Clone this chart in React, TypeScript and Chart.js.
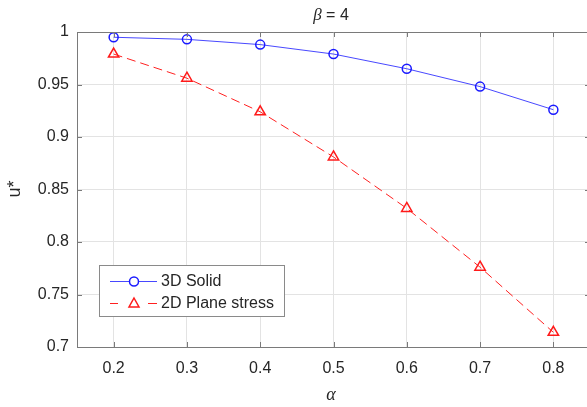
import React, { useEffect, useRef } from "react";
import { Chart, registerables } from "chart.js";

Chart.register(...registerables);

const alphaValues = [0.2, 0.3, 0.4, 0.5, 0.6, 0.7, 0.8];
const solid3D = [0.995, 0.993, 0.988, 0.979, 0.965, 0.948, 0.926];
const planeStress2D = [0.979, 0.956, 0.924, 0.881, 0.832, 0.776, 0.714];
const xTickValues = [0.2, 0.3, 0.4, 0.5, 0.6, 0.7, 0.8];
const yTickValues = [0.7, 0.75, 0.8, 0.85, 0.9, 0.95, 1];
const seriesNames = ["3D Solid", "2D Plane stress"];
const titleGreek = "β";
const titleRest = " = 4";
const xTitle = "α";
const yTitle = "u*";

const AXIS = "#7a7a7a";
const TEXT = "#262626";
const FONT = "'Liberation Sans', Arial, sans-serif";

const decorPlugin = {
  id: "decor",
  afterDraw(chart: any) {
    const ctx = chart.ctx as CanvasRenderingContext2D;
    const a = chart.chartArea;
    const xs = chart.scales.x;
    const ys = chart.scales.y;
    ctx.save();
    ctx.strokeStyle = AXIS;
    ctx.lineWidth = 1;
    ctx.beginPath();
    ctx.moveTo(a.left, a.top + 0.5);
    ctx.lineTo(a.right, a.top + 0.5);
    ctx.moveTo(a.right - 0.5, a.top);
    ctx.lineTo(a.right - 0.5, a.bottom);
    ctx.stroke();
    ctx.beginPath();
    for (const v of xTickValues) {
      const px = Math.round(xs.getPixelForValue(v)) + 0.5;
      ctx.moveTo(px, a.bottom);
      ctx.lineTo(px, a.bottom - 5);
      ctx.moveTo(px, a.top);
      ctx.lineTo(px, a.top + 5);
    }
    for (const v of yTickValues) {
      const py = Math.round(ys.getPixelForValue(v)) + 0.5;
      ctx.moveTo(a.left, py);
      ctx.lineTo(a.left + 5, py);
      ctx.moveTo(a.right, py);
      ctx.lineTo(a.right - 5, py);
    }
    ctx.stroke();

    // title
    ctx.fillStyle = TEXT;
    ctx.textBaseline = "middle";
    ctx.textAlign = "left";
    const gFont = "italic 17px 'Liberation Serif', 'DejaVu Serif', serif";
    const rFont = "16px " + FONT;
    ctx.font = gFont;
    const gw = ctx.measureText(titleGreek).width;
    ctx.font = rFont;
    const rw = ctx.measureText(titleRest).width;
    const tx = 331 - (gw + rw) / 2;
    ctx.font = gFont;
    ctx.fillText(titleGreek, tx, 16);
    ctx.font = rFont;
    ctx.fillText(titleRest, tx + gw, 16);

    // x title
    ctx.textAlign = "center";
    ctx.font = "italic 18px 'Liberation Serif', 'DejaVu Serif', serif";
    ctx.fillText(xTitle, 331, 395);

    // y title
    ctx.save();
    ctx.translate(15, 189);
    ctx.rotate(-Math.PI / 2);
    ctx.font = "18px " + FONT;
    ctx.fillText(yTitle, 0, 0);
    ctx.restore();

    // legend
    const lx = 99.5, ly = 265.5, lw = 185, lh = 51;
    ctx.fillStyle = "#ffffff";
    ctx.fillRect(lx, ly, lw, lh);
    ctx.strokeStyle = "#8a8a8a";
    ctx.lineWidth = 1;
    ctx.strokeRect(lx, ly, lw, lh);
    const rows = [281, 303];
    const ds = chart.data.datasets;
    for (let i = 0; i < 2; i++) {
      const y = rows[i];
      const d = ds[i];
      ctx.save();
      ctx.strokeStyle = d.borderColor;
      ctx.lineWidth = 1;
      ctx.beginPath();
      if (i === 1) {
        ctx.moveTo(110, y + 0.5);
        ctx.lineTo(118, y + 0.5);
        ctx.moveTo(148, y + 0.5);
        ctx.lineTo(157, y + 0.5);
      } else {
        ctx.moveTo(110, y + 0.5);
        ctx.lineTo(157, y + 0.5);
      }
      ctx.stroke();
      ctx.restore();
      ctx.save();
      ctx.strokeStyle = d.pointBorderColor;
      ctx.lineWidth = 1.5;
      ctx.fillStyle = "#ffffff";
      ctx.beginPath();
      if (i === 0) {
        ctx.arc(134, y + 0.5, 4.5, 0, Math.PI * 2);
      } else {
        ctx.moveTo(134, y - 5);
        ctx.lineTo(139, y + 4);
        ctx.lineTo(129, y + 4);
        ctx.closePath();
      }
      ctx.fill();
      ctx.stroke();
      ctx.restore();
      ctx.fillStyle = TEXT;
      ctx.textAlign = "left";
      ctx.textBaseline = "middle";
      ctx.font = "16px " + FONT;
      ctx.fillText(seriesNames[i], 161, y + 1);
    }
    ctx.restore();
  },
};

export default function App() {
  const ref = useRef<HTMLCanvasElement>(null);
  useEffect(() => {
    document.body.style.margin = "0";
    document.body.style.overflow = "hidden";
    document.documentElement.style.overflow = "hidden";
    const chart = new Chart(ref.current!, {
      type: "line",
      data: {
        datasets: [
          {
            label: seriesNames[0],
            data: alphaValues.map((a, i) => ({ x: a, y: solid3D[i] })),
            borderColor: "rgba(40,40,255,0.85)",
            borderWidth: 1,
            pointStyle: "circle",
            pointRadius: 4.5,
            pointBorderWidth: 1.5,
            pointBorderColor: "#1a1aff",
            pointBackgroundColor: "rgba(0,0,0,0)",
            fill: false,
          },
          {
            label: seriesNames[1],
            data: alphaValues.map((a, i) => ({ x: a, y: planeStress2D[i] })),
            borderColor: "#ff2020",
            borderWidth: 1,
            borderDash: [9, 5],
            pointStyle: "triangle",
            pointRadius: 6,
            pointBorderWidth: 1.5,
            pointBorderColor: "#ff1a1a",
            pointBackgroundColor: "rgba(0,0,0,0)",
            fill: false,
          },
        ],
      },
      options: {
        animation: false,
        responsive: false,
        maintainAspectRatio: false,
        layout: { autoPadding: false, padding: { top: 32, left: 0, right: 0, bottom: 0 } },
        plugins: { legend: { display: false }, title: { display: false }, tooltip: { enabled: false } },
        scales: {
          x: {
            type: "linear",
            min: 0.15,
            max: 0.85,
            afterBuildTicks: (s: any) => {
              s.ticks = xTickValues.map((v) => ({ value: v }));
            },
            afterFit: (s: any) => {
              s.height = 60;
              s.paddingLeft = 0;
              s.paddingRight = 0;
            },
            ticks: {
              padding: 12,
              color: TEXT,
              font: { family: FONT, size: 16 },
              callback: (v: any) => String(Number(Number(v).toFixed(2))),
              maxRotation: 0,
            },
            grid: { color: "#e3e3e3", lineWidth: 1, drawTicks: false },
            border: { display: true, color: AXIS, width: 1 },
          },
          y: {
            type: "linear",
            min: 0.7,
            max: 1,
            afterBuildTicks: (s: any) => {
              s.ticks = yTickValues.map((v) => ({ value: v }));
            },
            afterFit: (s: any) => {
              s.width = 77;
              s.paddingTop = 0;
              s.paddingBottom = 0;
            },
            ticks: {
              padding: 8,
              color: TEXT,
              font: { family: FONT, size: 16 },
              callback: (v: any) => String(Number(Number(v).toFixed(2))),
            },
            grid: { color: "#e3e3e3", lineWidth: 1, drawTicks: false },
            border: { display: true, color: AXIS, width: 1 },
          },
        },
      },
      plugins: [decorPlugin],
    } as any);
    return () => chart.destroy();
  }, []);
  return (
    <div style={{ position: "absolute", left: 0, top: 0, width: 590, height: 407, background: "#fff" }}>
      <canvas ref={ref} width={590} height={407} style={{ width: 590, height: 407, display: "block" }} />
    </div>
  );
}
